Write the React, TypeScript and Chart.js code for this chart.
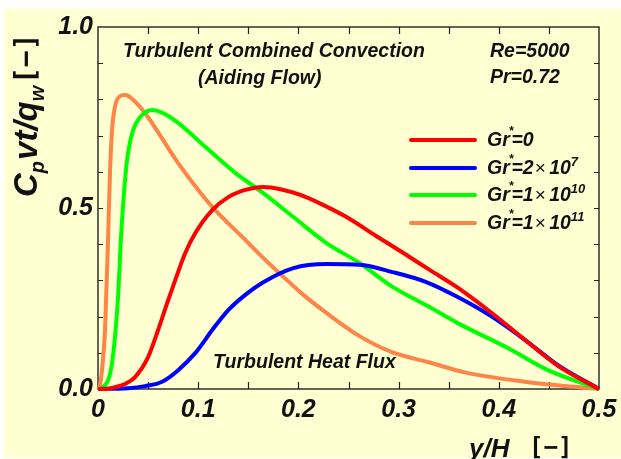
import React, { useEffect, useRef } from "react";
import { Chart, registerables } from "chart.js";

Chart.register(...registerables);

// ---- data ----
const gr0X = [0, 0.01, 0.017, 0.027, 0.037, 0.05, 0.06, 0.069, 0.077, 0.087, 0.097, 0.114, 0.13, 0.147, 0.165, 0.182, 0.202, 0.225, 0.248, 0.278, 0.304, 0.331, 0.359, 0.393, 0.426, 0.459, 0.5];
const gr0Y = [0, 0.001, 0.005, 0.014, 0.033, 0.088, 0.163, 0.237, 0.3, 0.375, 0.43, 0.494, 0.53, 0.55, 0.558, 0.552, 0.536, 0.508, 0.475, 0.422, 0.377, 0.329, 0.28, 0.21, 0.136, 0.064, 0];

const gr7X = [0, 0.03, 0.047, 0.064, 0.08, 0.097, 0.114, 0.13, 0.147, 0.165, 0.195, 0.228, 0.261, 0.294, 0.327, 0.359, 0.393, 0.426, 0.459, 0.5];
const gr7Y = [0, 0.002, 0.008, 0.02, 0.052, 0.099, 0.163, 0.218, 0.26, 0.295, 0.334, 0.345, 0.343, 0.323, 0.296, 0.254, 0.2, 0.136, 0.066, 0];

const gr10X = [0, 0.005, 0.014, 0.02, 0.023, 0.027, 0.03, 0.035, 0.042, 0.054, 0.065, 0.08, 0.107, 0.137, 0.163, 0.195, 0.228, 0.261, 0.294, 0.329, 0.359, 0.409, 0.449, 0.5];
const gr10Y = [0, 0.005, 0.072, 0.254, 0.42, 0.577, 0.652, 0.715, 0.751, 0.771, 0.762, 0.735, 0.669, 0.597, 0.545, 0.475, 0.403, 0.348, 0.282, 0.229, 0.182, 0.113, 0.052, 0];

const gr11X = [0, 0.002, 0.004, 0.007, 0.01, 0.012, 0.014, 0.017, 0.021, 0.027, 0.033, 0.047, 0.08, 0.114, 0.144, 0.162, 0.183, 0.205, 0.228, 0.261, 0.294, 0.33, 0.366, 0.426, 0.466, 0.5];
const gr11Y = [0, 0.01, 0.052, 0.163, 0.41, 0.6, 0.715, 0.78, 0.807, 0.812, 0.804, 0.762, 0.624, 0.503, 0.42, 0.37, 0.315, 0.26, 0.21, 0.146, 0.101, 0.074, 0.046, 0.02, 0.008, 0];

const seriesColors = ["#FF0000", "#0000FF", "#00FF00", "#FF8448"];
const seriesLabels = ["Gr*=0", "Gr*=2x10^7", "Gr*=1x10^10", "Gr*=1x10^11"];
const legendMantissa = ["0", "2", "1", "1"];
const legendExponent = ["", "7", "10", "11"];
const xTicks = [0, 0.1, 0.2, 0.3, 0.4, 0.5];
const yTicks = [0, 0.5, 1.0];

const FONT = '"Liberation Sans", Arial, sans-serif';
const MONO = '"DejaVu Sans Mono", monospace';

type Part = { text: string; font: string; rise?: number; dx?: number };

function drawParts(ctx: CanvasRenderingContext2D, x: number, y: number, parts: Part[]) {
  let cx = x;
  for (const p of parts) {
    ctx.font = p.font;
    cx += p.dx || 0;
    ctx.fillText(p.text, cx, y - (p.rise || 0));
    cx += ctx.measureText(p.text).width;
  }
}

const decor = {
  id: "decor",
  beforeDraw(chart: any) {
    const ctx = chart.ctx as CanvasRenderingContext2D;
    ctx.save();
    ctx.fillStyle = "#FFFFFF";
    ctx.fillRect(0, 0, chart.width, chart.height);
    ctx.fillStyle = "#FFFFD2";
    ctx.fillRect(4, 9, chart.width - 4, chart.height - 10);
    ctx.restore();
  },
  beforeDatasetsDraw(chart: any) {
    const ctx = chart.ctx as CanvasRenderingContext2D;
    const { left, right, top, bottom } = chart.chartArea;
    const xs = chart.scales.x;
    const ys = chart.scales.y;
    ctx.save();
    ctx.strokeStyle = "#222";
    ctx.lineWidth = 1.4;
    ctx.strokeRect(left, top, right - left, bottom - top);
    ctx.lineWidth = 1.2;
    ctx.beginPath();
    for (let i = 1; i < 10; i++) {
      const px = Math.round(xs.getPixelForValue(i * 0.05)) + 0.5;
      ctx.moveTo(px, bottom);
      ctx.lineTo(px, bottom - 7);
      ctx.moveTo(px, top);
      ctx.lineTo(px, top + 7);
    }
    for (let i = 1; i < 10; i++) {
      const py = Math.round(ys.getPixelForValue(i * 0.1)) + 0.5;
      ctx.moveTo(left, py);
      ctx.lineTo(left + 5, py);
      ctx.moveTo(right, py);
      ctx.lineTo(right - 5, py);
    }
    ctx.stroke();
    ctx.restore();
  },
  afterDraw(chart: any) {
    const ctx = chart.ctx as CanvasRenderingContext2D;
    ctx.save();
    ctx.fillStyle = "#111";
    ctx.textBaseline = "alphabetic";
    ctx.textAlign = "left";
    const bi = (s: number) => `italic bold ${s}px ${FONT}`;
    ctx.font = bi(19.5);
    ctx.fillText("Turbulent Combined Convection", 123, 57);
    ctx.fillText("(Aiding Flow)", 198, 84);
    ctx.fillText("Re=5000", 490, 57);
    ctx.fillText("Pr=0.72", 490, 83);
    ctx.fillText("Turbulent Heat Flux", 213, 368);

    // legend
    const rowY = [140, 168, 195, 223];
    chart.data.datasets.forEach((ds: any, i: number) => {
      const y = rowY[i];
      ctx.save();
      ctx.strokeStyle = ds.borderColor;
      ctx.lineWidth = 4;
      ctx.lineCap = "round";
      ctx.beginPath();
      ctx.moveTo(411, y);
      ctx.lineTo(475, y);
      ctx.stroke();
      ctx.restore();
      const parts: Part[] = [
        { text: "Gr", font: bi(19.5) },
        { text: "*", font: bi(12), rise: 11, dx: -1 },
        { text: "=" + legendMantissa[i], font: bi(19.5), dx: -2 },
      ];
      if (legendExponent[i]) {
        parts.push({ text: "\u00d7", font: `19px ${FONT}`, dx: 1 });
        parts.push({ text: " 10", font: bi(19.5), dx: -2 });
        parts.push({ text: legendExponent[i], font: bi(13), rise: 8, dx: 0 });
      }
      drawParts(ctx, 487, y + 6, parts);
    });

    // x axis title
    ctx.font = bi(26);
    ctx.fillText("y/H", 469, 457);
    ctx.font = `bold 24px ${MONO}`;
    ctx.fillText("[\u2212]", 529, 455);

    // y axis title (rotated)
    ctx.save();
    ctx.translate(37, 197);
    ctx.rotate(-Math.PI / 2);
    drawParts(ctx, 0, 0, [
      { text: "C", font: bi(33) },
      { text: "p", font: bi(20), rise: -7 },
      { text: "vt/q", font: bi(33), dx: 1 },
      { text: "w", font: bi(20), rise: -7 },
    ]);
    ctx.font = `bold 28px ${MONO}`;
    ctx.fillText("[\u2212]", 113, -2);
    ctx.restore();
    ctx.restore();
  },
};

export default function App() {
  const ref = useRef<HTMLCanvasElement | null>(null);
  useEffect(() => {
    document.body.style.margin = "0";
    const canvas = ref.current!;
    const mk = (xs: number[], ys: number[]) => xs.map((x, i) => ({ x, y: ys[i] }));
    const series = [mk(gr0X, gr0Y), mk(gr7X, gr7Y), mk(gr10X, gr10Y), mk(gr11X, gr11Y)];
    const chart = new Chart(canvas, {
      type: "line",
      data: {
        datasets: series.map((d, i) => ({
          label: seriesLabels[i],
          data: d,
          borderColor: seriesColors[i],
          backgroundColor: seriesColors[i],
          borderWidth: 4,
          pointRadius: 0,
          cubicInterpolationMode: "monotone" as const,
          fill: false,
          clip: 4,
        })),
      },
      options: {
        responsive: false,
        animation: false,
        events: [],
        layout: { padding: { left: 0, top: 27, right: 22, bottom: 0 } },
        plugins: { legend: { display: false }, tooltip: { enabled: false } },
        scales: {
          x: {
            type: "linear",
            min: 0,
            max: 0.5,
            afterBuildTicks: (s: any) => {
              s.ticks = xTicks.map((v) => ({ value: v }));
            },
            afterFit: (s: any) => {
              s.height = 70;
              s.paddingLeft = 0;
              s.paddingRight = 0;
            },
            grid: { display: false, drawTicks: false },
            border: { display: false },
            ticks: {
              padding: 6,
              color: "#111",
              maxRotation: 0,
              autoSkip: false,
              font: { family: FONT, size: 25, weight: "bold", style: "italic" },
              callback: (v: any) => (Number(v) === 0 ? "0" : Number(v).toFixed(1)),
            },
          },
          y: {
            type: "linear",
            min: 0,
            max: 1,
            afterBuildTicks: (s: any) => {
              s.ticks = yTicks.map((v) => ({ value: v }));
            },
            afterFit: (s: any) => {
              s.width = 98;
              s.paddingTop = 0;
              s.paddingBottom = 0;
            },
            grid: { display: false, drawTicks: false },
            border: { display: false },
            ticks: {
              padding: 5,
              color: "#111",
              autoSkip: false,
              font: { family: FONT, size: 25, weight: "bold", style: "italic" },
              callback: (v: any) => Number(v).toFixed(1),
            },
          },
        },
      },
      plugins: [decor],
    });
    return () => chart.destroy();
  }, []);
  return <canvas ref={ref} width={621} height={459} style={{ display: "block" }} />;
}
